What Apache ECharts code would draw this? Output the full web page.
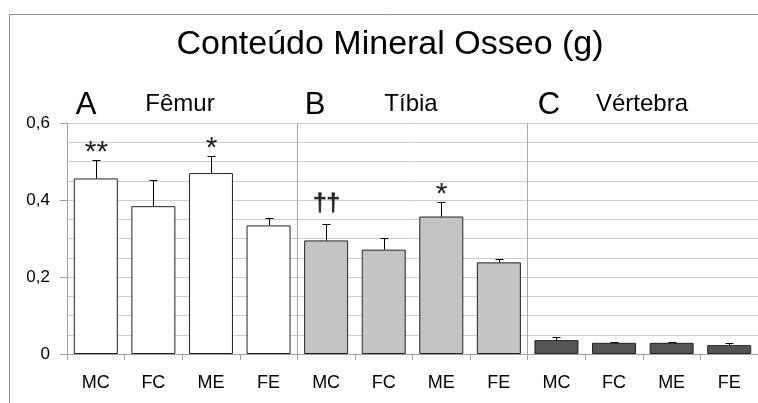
<!DOCTYPE html>
<html>
<head>
<meta charset="utf-8">
<script src="https://cdn.jsdelivr.net/npm/echarts@6/dist/echarts.min.js"></script>
<style>html,body{margin:0;padding:0;background:#fff}#c{width:758px;height:403px}</style>
</head>
<body>
<div id="c"></div>
<script>
// ---- data ----
const categories = ['MC','FC','ME','FE','MC','FC','ME','FE','MC','FC','ME','FE'];
const groups = ['Fêmur','Tíbia','Vértebra'];
const groupLetters = ['A','B','C'];
const femur = [0.456, 0.384, 0.470, 0.334];
const tibia = [0.295, 0.271, 0.357, 0.238];
const vertebra = [0.036, 0.029, 0.029, 0.023];
const femurErr = [0.048, 0.068, 0.045, 0.018];
const tibiaErr = [0.042, 0.031, 0.037, 0.010];
const vertebraErr = [0.009, 0.003, 0.003, 0.006];
const marks = ['**','','*','','††','','*','','','','',''];
const yTicks = [0, 0.2, 0.4, 0.6];
const chartTitle = 'Conteúdo Mineral Osseo (g)';

// ---- build ----
const FONT = '"Liberation Sans", Arial, Helvetica, sans-serif';
const fills = ['#ffffff', '#c4c4c4', '#555555'];
const values = femur.concat(tibia, vertebra);
const errs = femurErr.concat(tibiaErr, vertebraErr);
const barData = values.map((v, i) => ({
  value: v,
  itemStyle: { color: fills[Math.floor(i / 4)], borderColor: '#222', borderWidth: 1 }
}));
const errData = values.map((v, i) => [i, v, errs[i]]);

const chart = echarts.init(document.getElementById('c'), null, { renderer: 'canvas' });

const groupCentersLetter = [86, 315, 549];
const groupCentersName = [180, 411, 642];
const graphics = [
  { type: 'rect', shape: { x: 9.5, y: 14.5, width: 800, height: 500 }, style: { fill: 'none', stroke: '#8a8a8a', lineWidth: 1 }, silent: true, z: -1 },
  { type: 'text', x: 390, y: 45, style: { text: chartTitle, font: '34px ' + FONT, fill: '#000', align: 'center', verticalAlign: 'middle' } }
];
groups.forEach((g, k) => {
  graphics.push({ type: 'text', x: groupCentersLetter[k], y: 105, style: { text: groupLetters[k], font: '31px ' + FONT, fill: '#000', align: 'center', verticalAlign: 'middle' } });
  graphics.push({ type: 'text', x: groupCentersName[k], y: 104, style: { text: g, font: '24px ' + FONT, fill: '#000', align: 'center', verticalAlign: 'middle' } });
});

chart.setOption({
  animation: false,
  backgroundColor: '#fff',
  grid: { left: 67, top: 123, right: -2, bottom: 49, containLabel: false },
  graphic: graphics,
  xAxis: {
    type: 'category',
    data: categories,
    boundaryGap: true,
    axisLine: { show: true, lineStyle: { color: '#a0a0a0', width: 1 } },
    axisTick: { show: true, interval: 0, length: 6, lineStyle: { color: '#a0a0a0' } },
    axisLabel: { interval: 0, margin: 20, fontSize: 18, fontFamily: FONT, color: '#000' },
    splitLine: { show: true, interval: (idx) => idx === 4 || idx === 8, lineStyle: { color: '#a8a8a8', width: 1 } }
  },
  yAxis: {
    type: 'value',
    min: 0, max: 0.6, interval: 0.2,
    axisLine: { show: true, lineStyle: { color: '#a0a0a0' } },
    axisTick: { show: true, length: 7, lineStyle: { color: '#a0a0a0' } },
    axisLabel: {
      margin: 17, fontSize: 17, fontFamily: FONT, color: '#000',
      formatter: v => yTicks.some(t => Math.abs(t - v) < 1e-9) ? String(+v.toFixed(1)).replace('.', ',') : ''
    },
    splitLine: { show: true, lineStyle: { color: '#cccccc', width: 1 } },
    minorTick: { show: false, splitNumber: 4 },
    minorSplitLine: { show: true, lineStyle: { color: '#cccccc', width: 1 } }
  },
  series: [
    { type: 'bar', data: barData, barWidth: 44, z: 2 },
    {
      type: 'custom', z: 3,
      data: errData,
      encode: { x: 0, y: 1 },
      renderItem: (params, api) => {
        const i = api.value(0), v = api.value(1), e = api.value(2);
        const p0 = api.coord([i, v]);
        const p1 = api.coord([i, v + e]);
        const x = Math.round(p0[0]) + 0.5;
        const yTop = Math.round(p1[1]) + 0.5;
        const children = [
          { type: 'line', shape: { x1: x, y1: p0[1], x2: x, y2: yTop }, style: { stroke: '#000', lineWidth: 1 } },
          { type: 'line', shape: { x1: x - 4, y1: yTop, x2: x + 4, y2: yTop }, style: { stroke: '#000', lineWidth: 1 } }
        ];
        const m = marks[params.dataIndex];
        if (m) {
          const dagger = m.indexOf('†') >= 0;
          const st = { text: m, font: (dagger ? '24px ' : '30px ') + FONT, fill: '#222', align: 'center', verticalAlign: 'middle' };
          if (dagger) { st.stroke = '#000'; st.lineWidth = 0.8; }
          children.push({ type: 'text', x: x, y: yTop - (dagger ? 21 : 8), style: st });
        }
        return { type: 'group', children };
      }
    }
  ]
});
</script>
</body>
</html>
